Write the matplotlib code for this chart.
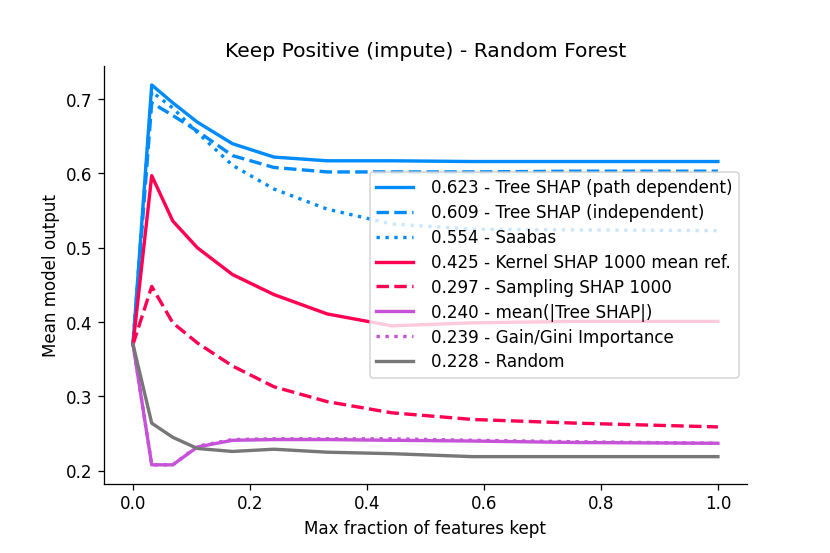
import matplotlib
matplotlib.use("Agg")
import matplotlib.pyplot as plt
import numpy as np

# fraction of features kept
fractions = [0.0, 0.032, 0.068, 0.110, 0.170, 0.241, 0.332, 0.442, 0.581, 0.76, 1.0]

tree_shap_path = [0.370, 0.719, 0.695, 0.669, 0.640, 0.622, 0.617, 0.617, 0.616, 0.616, 0.616]
tree_shap_indep = [0.370, 0.695, 0.678, 0.657, 0.624, 0.608, 0.602, 0.602, 0.602, 0.603, 0.603]
saabas = [0.370, 0.710, 0.688, 0.655, 0.611, 0.579, 0.552, 0.532, 0.525, 0.524, 0.523]
kernel_shap = [0.370, 0.597, 0.536, 0.500, 0.464, 0.437, 0.411, 0.395, 0.399, 0.401, 0.401]
sampling_shap = [0.370, 0.448, 0.399, 0.372, 0.341, 0.313, 0.293, 0.278, 0.269, 0.264, 0.259]
mean_abs_tree_shap = [0.370, 0.208, 0.208, 0.232, 0.241, 0.242, 0.242, 0.241, 0.240, 0.238, 0.237]
gain_gini = [0.370, 0.208, 0.208, 0.233, 0.242, 0.243, 0.243, 0.243, 0.241, 0.239, 0.237]
random_order = [0.370, 0.264, 0.245, 0.230, 0.226, 0.229, 0.225, 0.223, 0.219, 0.219, 0.219]

labels = [
    "0.623 - Tree SHAP (path dependent)",
    "0.609 - Tree SHAP (independent)",
    "0.554 - Saabas",
    "0.425 - Kernel SHAP 1000 mean ref.",
    "0.297 - Sampling SHAP 1000",
    "0.240 - mean(|Tree SHAP|)",
    "0.239 - Gain/Gini Importance",
    "0.228 - Random",
]

blue = "#008bfb"
red = "#ff0052"
purple = "#c652d8"
gray = "#777777"

series = [tree_shap_path, tree_shap_indep, saabas, kernel_shap,
          sampling_shap, mean_abs_tree_shap, gain_gini, random_order]
colors = [blue, blue, blue, red, red, purple, purple, gray]
styles = ["-", "--", ":", "-", "--", "-", ":", "-"]

fig, ax = plt.subplots(figsize=(7.2, 4.8), dpi=115.3)
fig.subplots_adjust(left=0.125, right=0.9, bottom=0.125, top=0.88)
for ys, c, ls, lab in zip(series, colors, styles, labels):
    ax.plot(fractions, ys, color=c, linestyle=ls, linewidth=2.1, label=lab)

ax.spines["top"].set_visible(False)
ax.spines["right"].set_visible(False)
ax.tick_params(labelsize=10.5)
ax.set_xlabel("Max fraction of features kept", fontsize=10.5)
ax.set_ylabel("Mean model output", fontsize=10.5)
ax.set_title("Keep Positive (impute) - Random Forest", fontsize=12.7)
ax.legend(loc="center right", fontsize=10.5, labelspacing=0.41,
          handlelength=2.15, handletextpad=1.07)

plt.savefig("out.png", dpi=115.3)
